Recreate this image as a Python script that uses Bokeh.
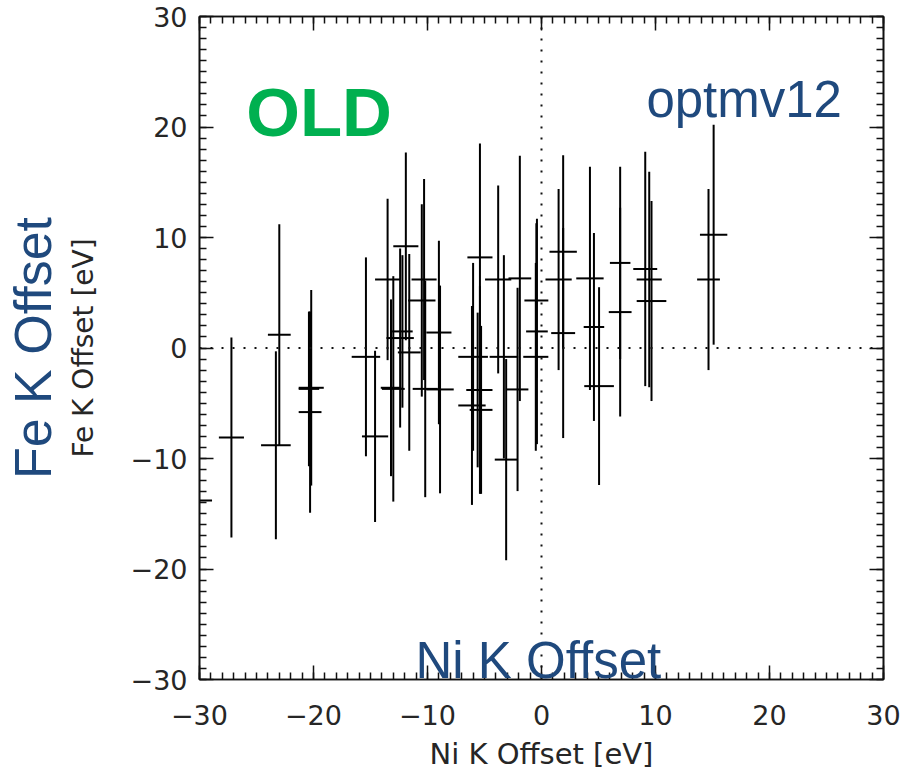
from bokeh.plotting import figure
from bokeh.models import (ColumnDataSource, LinearAxis, SingleIntervalTicker,
                          FixedTicker, Span, Label, Range1d)
from bokeh.embed import file_html
from bokeh.resources import INLINE
import numpy as np

# ---- data ----
ni_offset = [-30.2, -27.2, -23.0, -23.3, -20.2, -20.4, -20.3, -15.4, -14.6, -13.5,
             -13.0, -13.2, -12.4, -12.2, -11.9, -11.6, -10.3, -10.5, -10.2, -9.0,
             -8.9, -6.0, -5.4, -5.4, -5.6, -6.1, -5.3, -3.8, -3.3, -3.1,
             -1.9, -2.1, -0.45, -0.4, -0.5, 1.5, 1.9, 1.9, 4.25, 4.6,
             5.05, 6.9, 6.9, 9.1, 9.45, 9.65, 14.65, 15.1]
fe_offset = [-13.8, -8.1, 1.2, -8.8, -3.6, -3.7, -5.8, -0.8, -8.0, 6.2,
             -3.7, -3.6, 0.9, 1.5, 9.2, -0.4, 6.2, 4.3, -3.7, 1.4,
             -3.75, -0.8, 8.2, -3.8, -3.8, -5.2, -5.6, 6.2, -0.8, -10.1,
             6.3, -3.75, 4.3, 1.5, -0.8, 6.2, 8.7, 1.35, 6.3, 1.9,
             -3.45, 7.7, 3.25, 7.15, 6.2, 4.25, 6.2, 10.25]
ni_err = [1.3, 1.1, 1.0, 1.3, 1.1, 0.9, 1.0, 1.25, 1.15, 1.1,
          1.0, 0.9, 1.2, 0.9, 1.1, 1.0, 1.1, 1.2, 1.1, 1.1,
          1.2, 1.3, 1.1, 1.1, 1.0, 1.2, 1.0, 1.15, 1.25, 1.0,
          1.0, 0.95, 1.05, 0.95, 1.1, 1.15, 1.2, 1.05, 1.2, 0.9,
          1.3, 0.9, 1.0, 1.05, 1.1, 1.3, 1.0, 1.2]
fe_err = [9.0, 9.05, 10.0, 8.5, 8.85, 7.0, 9.1, 9.0, 7.75, 7.3,
          10.2, 8.0, 8.1, 6.9, 8.5, 8.9, 9.1, 8.7, 9.8, 8.3,
          9.4, 8.5, 10.3, 9.4, 7.0, 9.0, 7.6, 8.5, 9.2, 9.1,
          11.1, 9.2, 7.0, 10.2, 8.5, 8.2, 8.75, 9.5, 10.1, 8.5,
          8.95, 8.7, 9.45, 10.6, 9.75, 9.05, 8.2, 9.95]

tick_values = [-30, -20, -10, 0, 10, 20, 30]
tick_labels = ["\u221230", "\u221220", "\u221210", "0", "10", "20", "30"]

x_title = "Ni K Offset [eV]"
y_title = "Fe K Offset [eV]"
big_y_title = "Fe K Offset"
big_x_note = "Ni K Offset"
old_note = "OLD"
model_note = "optmv12"

x = np.array(ni_offset)
y = np.array(fe_offset)
xe = np.array(ni_err)
ye = np.array(fe_err)

src = ColumnDataSource(dict(
    x=x, y=y,
    xl=x - xe, xr=x + xe,
    yl=y - ye, yh=y + ye,
))

p = figure(width=905, height=780, output_backend="svg", toolbar_location=None,
           x_range=Range1d(-30, 30), y_range=Range1d(-30, 30),
           min_border_left=196, min_border_right=22,
           min_border_top=16, min_border_bottom=101,
           x_axis_label=x_title, y_axis_label=y_title)

p.background_fill_color = "white"
p.border_fill_color = "white"
p.outline_line_color = "#111111"
p.outline_line_width = 1.6
p.grid.visible = False

overrides = {v: t for v, t in zip(tick_values, tick_labels)}
blank = {v: "" for v in tick_values}


def style_axis(ax, show_labels=True):
    ax.ticker = SingleIntervalTicker(interval=10, num_minor_ticks=10)
    ax.major_tick_in = 14
    ax.major_tick_out = 0
    ax.minor_tick_in = 7
    ax.minor_tick_out = 0
    ax.major_tick_line_color = "#111111"
    ax.minor_tick_line_color = "#111111"
    ax.major_tick_line_width = 1.5
    ax.minor_tick_line_width = 1.5
    ax.axis_line_color = "#111111"
    ax.axis_line_width = 1.6
    if show_labels:
        ax.major_label_overrides = overrides
        ax.major_label_text_font = "DejaVu Sans"
        ax.major_label_text_font_size = "27px"
        ax.major_label_text_color = "#262626"
        ax.axis_label_text_font = "DejaVu Sans"
        ax.axis_label_text_font_size = "28px"
        ax.axis_label_text_font_style = "normal"
        ax.axis_label_text_color = "#262626"
    else:
        ax.major_label_overrides = blank
        ax.major_label_standoff = 0


for ax in p.xaxis:
    style_axis(ax)
    ax.major_label_standoff = 25
    ax.axis_label_standoff = 9
    ax.axis_label_text_font_size = "29px"
for ax in p.yaxis:
    style_axis(ax)
    ax.major_label_standoff = 12
    ax.axis_label_standoff = 28

top = LinearAxis()
style_axis(top, show_labels=False)
p.add_layout(top, "above")
right = LinearAxis()
style_axis(right, show_labels=False)
p.add_layout(right, "right")

blue = "#1F497D"

# outer, larger blue title on the left
outer = LinearAxis(ticker=FixedTicker(ticks=[]), axis_label=big_y_title)
outer.axis_line_color = None
outer.major_tick_line_color = None
outer.minor_tick_line_color = None
outer.major_tick_in = 0
outer.major_tick_out = 0
outer.minor_tick_in = 0
outer.minor_tick_out = 0
outer.major_label_standoff = 0
outer.axis_label_standoff = 2
outer.axis_label_text_font = "Liberation Sans"
outer.axis_label_text_font_size = "52px"
outer.axis_label_text_font_style = "normal"
outer.axis_label_text_color = blue
p.add_layout(outer, "left")

# zero lines
p.add_layout(Span(location=0, dimension="height", line_color="#111111",
                  line_dash="2 9", line_width=2))
p.add_layout(Span(location=0, dimension="width", line_color="#111111",
                  line_dash="2 9", line_width=2))

# error bars
p.segment(x0="xl", y0="y", x1="xr", y1="y", source=src,
          line_color="black", line_width=2)
p.segment(x0="x", y0="yl", x1="x", y1="yh", source=src,
          line_color="black", line_width=2)

p.add_layout(Label(x=-25.9, y=21.3, text=old_note, text_font="Liberation Sans",
                   text_font_style="bold", text_font_size="69px",
                   text_color="#00B050", text_baseline="alphabetic"))
p.add_layout(Label(x=9.2, y=22.5, text=model_note, text_font="Liberation Sans",
                   text_font_size="51px", text_color=blue,
                   text_baseline="alphabetic"))
p.add_layout(Label(x=-11.05, y=-28.3, text=big_x_note, text_font="Liberation Sans",
                   text_font_size="51px", text_color=blue,
                   text_baseline="alphabetic"))

open("out.html", "w").write(file_html(p, INLINE))
